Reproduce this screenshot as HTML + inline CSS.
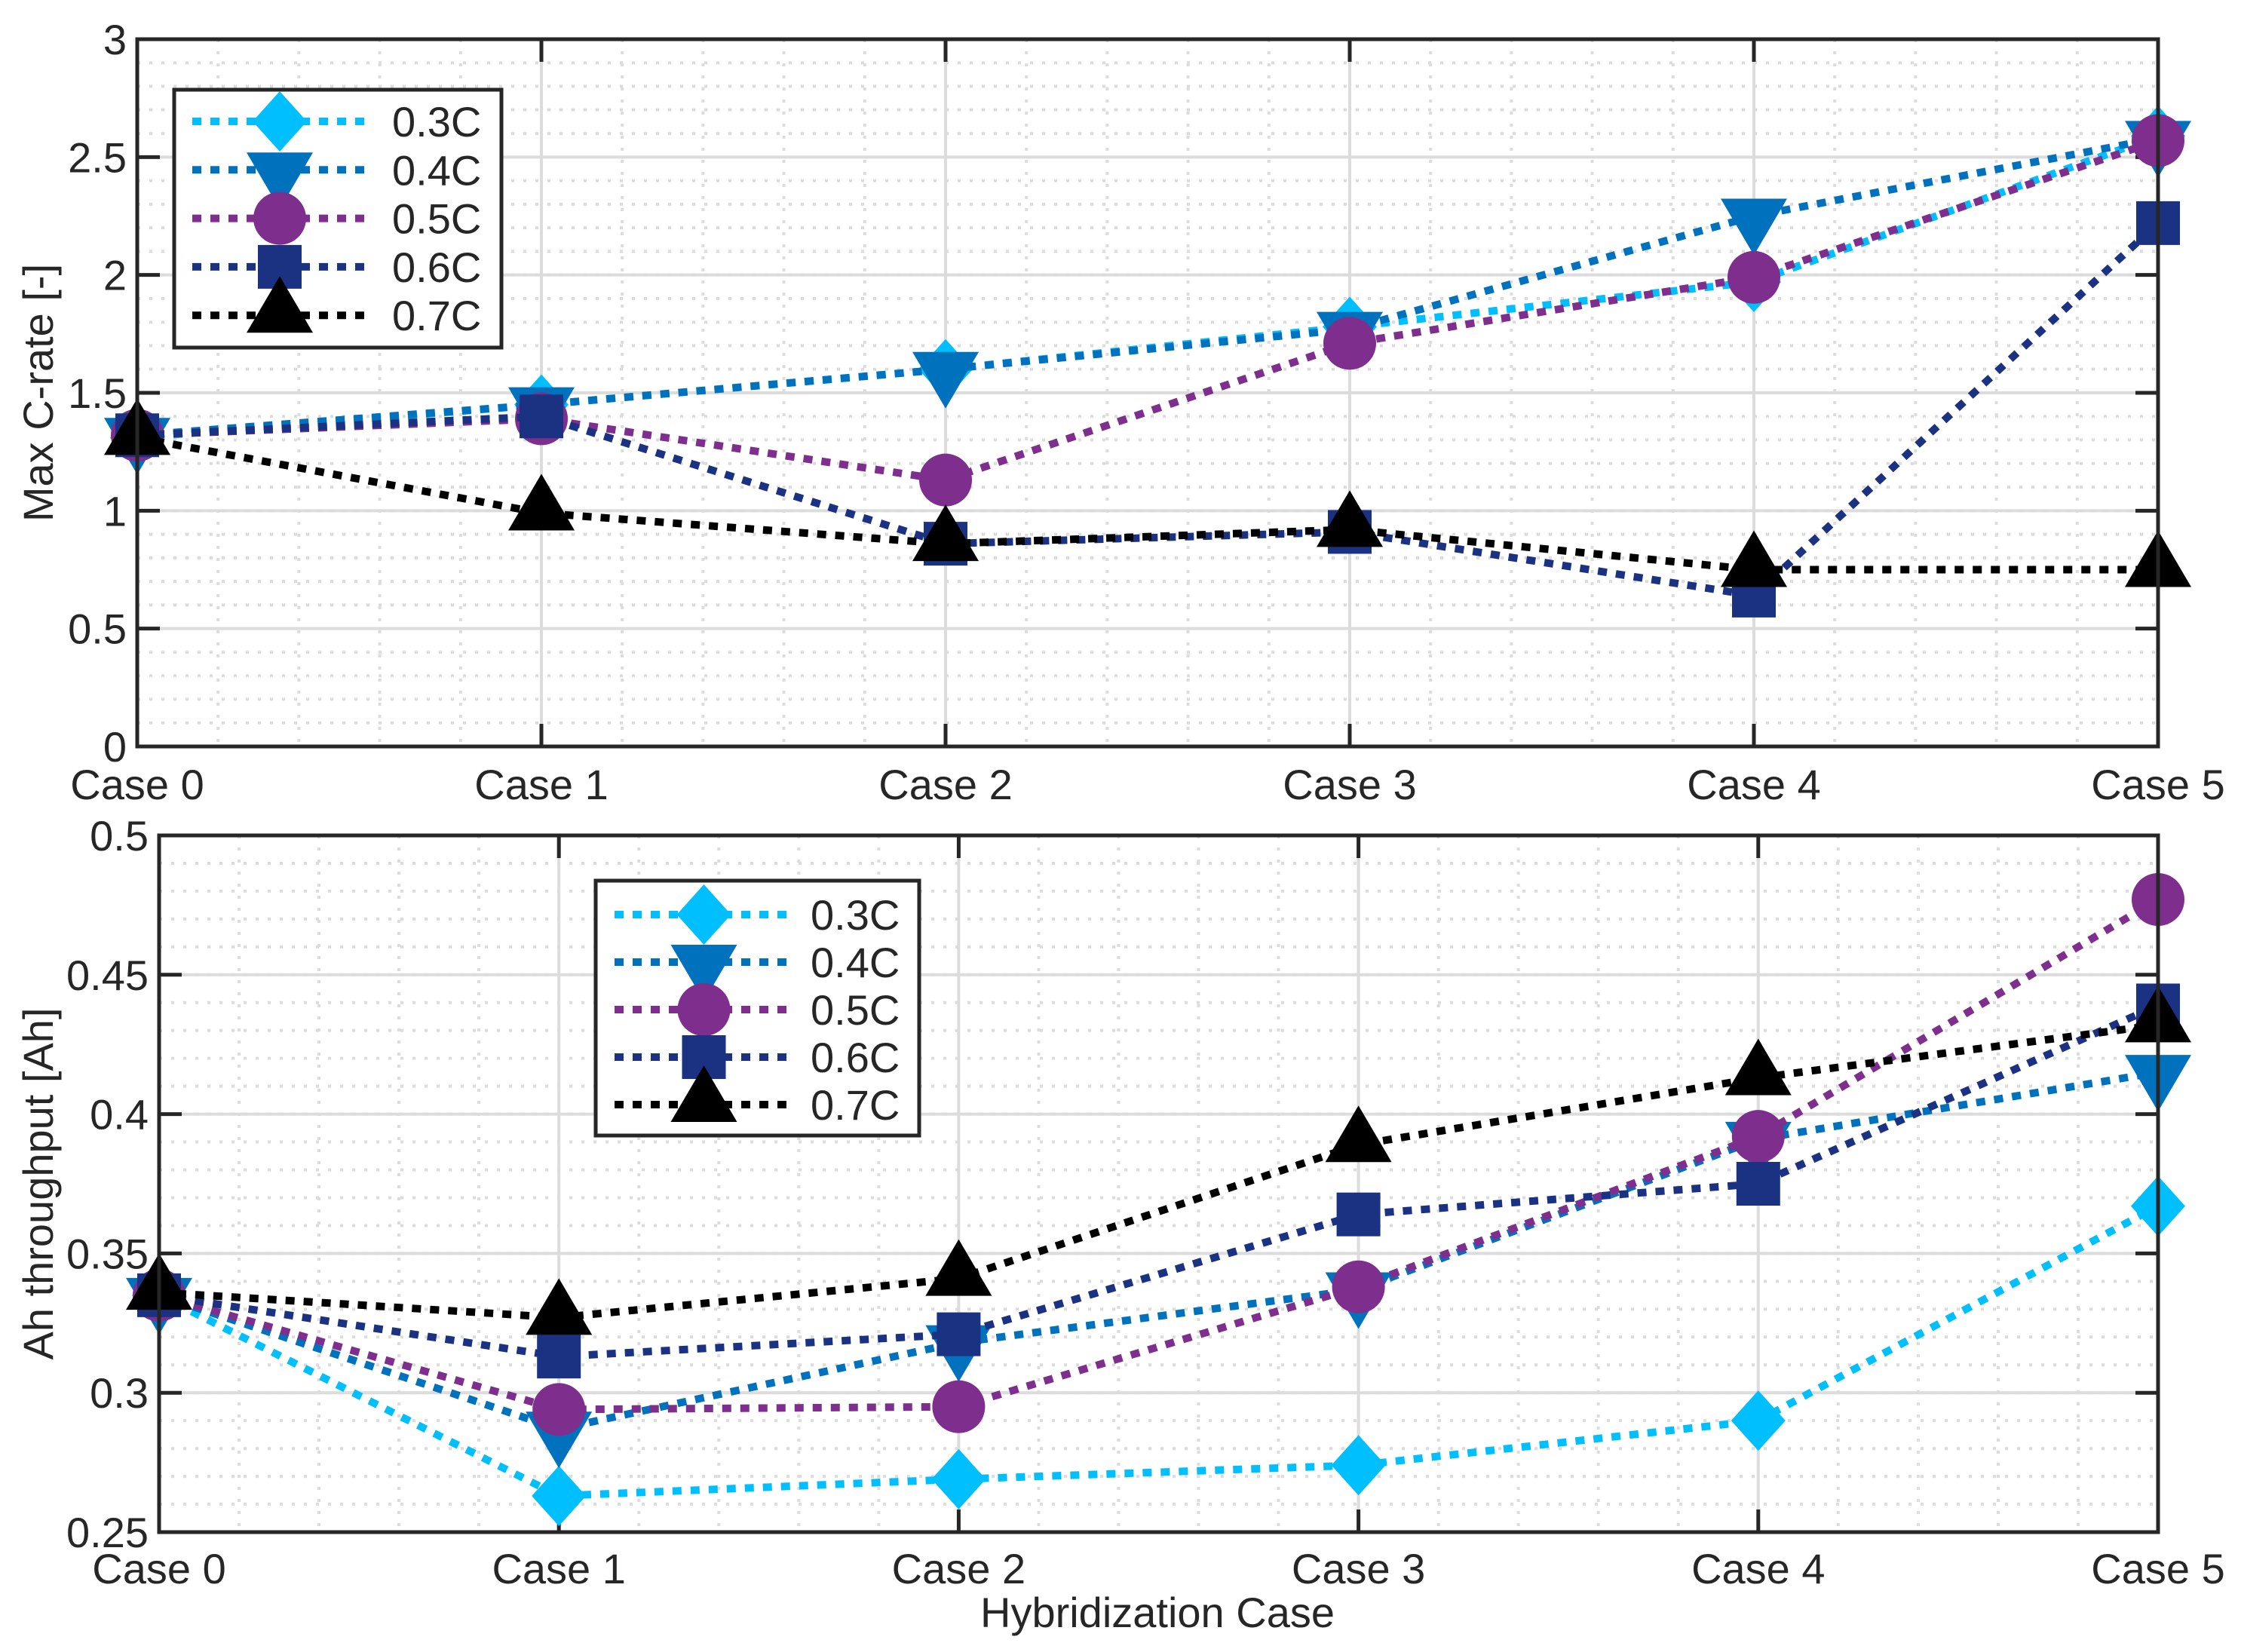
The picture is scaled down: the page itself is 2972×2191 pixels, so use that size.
<!DOCTYPE html>
<html><head><meta charset="utf-8"><style>
html,body{margin:0;padding:0;background:#fff;}
svg{display:block;font-family:"Liberation Sans",Arial,sans-serif;}
</style></head><body>
<svg id="fig" width="2972" height="2191" viewBox="0 0 2972 2191" xmlns="http://www.w3.org/2000/svg"></svg>
<script>
const categories = ["Case 0","Case 1","Case 2","Case 3","Case 4","Case 5"];
const seriesNames = ["0.3C","0.4C","0.5C","0.6C","0.7C"];
const topValues03 = [1.31, 1.45, 1.60, 1.78, 1.97, 2.59];
const topValues04 = [1.32, 1.45, 1.60, 1.77, 2.25, 2.58];
const topValues05 = [1.32, 1.39, 1.13, 1.71, 1.99, 2.57];
const topValues06 = [1.32, 1.40, 0.86, 0.91, 0.64, 2.22];
const topValues07 = [1.31, 0.99, 0.86, 0.92, 0.75, 0.75];
const botValues03 = [0.335, 0.263, 0.269, 0.274, 0.290, 0.367];
const botValues04 = [0.335, 0.287, 0.318, 0.337, 0.391, 0.415];
const botValues05 = [0.335, 0.294, 0.295, 0.338, 0.392, 0.477];
const botValues06 = [0.335, 0.313, 0.321, 0.364, 0.375, 0.439];
const botValues07 = [0.336, 0.327, 0.341, 0.389, 0.413, 0.432];
const topYTicks = [0, 0.5, 1, 1.5, 2, 2.5, 3];
const topYTickLabels = ["0","0.5","1","1.5","2","2.5","3"];
const botYTicks = [0.25, 0.3, 0.35, 0.4, 0.45, 0.5];
const botYTickLabels = ["0.25","0.3","0.35","0.4","0.45","0.5"];

const colors = ["#00BFFF","#0072BD","#7E2F8E","#1A3281","#000000"];
const markers = ["diamond","vtri","circle","square","utri"];
const NS = "http://www.w3.org/2000/svg";
const svg = document.getElementById("fig");
function el(tag, attrs, parent){
  const e = document.createElementNS(NS, tag);
  for (const k in attrs) e.setAttribute(k, attrs[k]);
  (parent||svg).appendChild(e);
  return e;
}

function drawMarker(g, type, cx, cy, color){
  let m;
  if (type === "diamond"){
    m = el("polygon",{points:`${cx},${cy-40} ${cx+36},${cy} ${cx},${cy+40} ${cx-36},${cy}`,fill:color},g);
  } else if (type === "vtri"){
    m = el("polygon",{points:`${cx-44},${cy-23} ${cx+44},${cy-23} ${cx},${cy+52}`,fill:color},g);
  } else if (type === "utri"){
    m = el("polygon",{points:`${cx-44},${cy+23} ${cx+44},${cy+23} ${cx},${cy-52}`,fill:color},g);
  } else if (type === "circle"){
    m = el("circle",{cx:cx,cy:cy,r:35,fill:color},g);
  } else {
    m = el("rect",{x:cx-29,y:cy-29,width:58,height:58,fill:color},g);
  }
  return m;
}

function drawPanel(cfg){
  const {L,R,T,B,ymin,ymax,yTicks,yLabels,minorStep,values,legend,yTitle,prefix,xLabelY} = cfg;
  const xs = i => L + (R-L)*i/(categories.length-1);
  const ys = v => B - (v-ymin)/(ymax-ymin)*(B-T);
  const g = el("g",{});
  
  
  // minor grid
  const mg = el("g",{stroke:"#dcdcdc","stroke-width":4,"stroke-dasharray":"4 12"},g);
  for (let v=ymin; v<ymax-1e-9; v+=minorStep){
    const y = ys(v);
    el("line",{x1:L,x2:R,y1:y,y2:y},mg);
  }
  for (let i=0;i<categories.length-1;i++){
    for (let k=1;k<5;k++){
      const x = L + (R-L)*(i+k/5)/(categories.length-1);
      el("line",{x1:x,x2:x,y1:T,y2:B},mg);
    }
  }
  // major grid
  const Mg = el("g",{stroke:"#dcdcdc","stroke-width":4},g);
  yTicks.forEach(v=>{const y=ys(v); el("line",{x1:L,x2:R,y1:y,y2:y},Mg);});
  categories.forEach((c,i)=>{const x=xs(i); el("line",{x1:x,x2:x,y1:T,y2:B},Mg);});
  // ticks
  const tg = el("g",{stroke:"#262626","stroke-width":5},g);
  yTicks.forEach(v=>{const y=ys(v);
    el("line",{x1:L,x2:L+30,y1:y,y2:y},tg); el("line",{x1:R,x2:R-30,y1:y,y2:y},tg);});
  categories.forEach((c,i)=>{const x=xs(i);
    el("line",{x1:x,x2:x,y1:B,y2:B-30},tg); el("line",{x1:x,x2:x,y1:T,y2:T+30},tg);});
  // tick labels
  yTicks.forEach((v,i)=>{
    const t = el("text",{x:L-14,y:ys(v)+20,"text-anchor":"end","font-size":56,fill:"#262626"},g);
    t.textContent = yLabels[i];
    
    
  });
  categories.forEach((c,i)=>{
    const t = el("text",{x:xs(i),y:xLabelY,"text-anchor":"middle","font-size":56,fill:"#262626"},g);
    t.textContent = c;
    
    
  });
  const yt = el("text",{x:0,y:0,"text-anchor":"middle","font-size":56,fill:"#262626",transform:`translate(70,${(T+B)/2}) rotate(-90)`},g);
  yt.textContent = yTitle;
  
  
  // series
  values.forEach((vals,si)=>{
    const sg = el("g",{},g);
    
    
    const pts = vals.map((v,i)=>xs(i)+","+ys(v)).join(" ");
    el("polyline",{points:pts,fill:"none",stroke:colors[si],"stroke-width":10,"stroke-dasharray":"12 12"},sg);
    vals.forEach((v,i)=>{
      const m = drawMarker(sg, markers[si], xs(i), ys(v), colors[si]);
      
      
    });
  });
  // box
  el("rect",{x:L,y:T,width:R-L,height:B-T,fill:"none",stroke:"#262626","stroke-width":5},g);
  // legend
  const lg = el("g",{},g);
  
  
  el("rect",{x:legend.x,y:legend.y,width:legend.w,height:legend.h,fill:"#fff",stroke:"#262626","stroke-width":5},lg);
  seriesNames.forEach((n,si)=>{
    const e = el("g",{},lg);
    
    
    const y = legend.y0 + si*legend.dy;
    el("line",{x1:legend.lx1,x2:legend.lx2,y1:y,y2:y,stroke:colors[si],"stroke-width":10,"stroke-dasharray":"12 12"},e);
    drawMarker(e, markers[si], (legend.lx1+legend.lx2)/2, y, colors[si]);
    const t = el("text",{x:legend.tx,y:y+20,"font-size":56,fill:"#262626"},e);
    t.textContent = n;
  });
}

drawPanel({L:182,R:2862,T:52,B:990,ymin:0,ymax:3,yTicks:topYTicks,yLabels:topYTickLabels,minorStep:0.1,
  values:[topValues03,topValues04,topValues05,topValues06,topValues07],
  legend:{x:231,y:119,w:434,h:342,y0:161,dy:64.3,lx1:255,lx2:487,tx:520},
  yTitle:"Max C-rate [-]",prefix:"top",xLabelY:1060});
drawPanel({L:211,R:2862,T:1108,B:2032,ymin:0.25,ymax:0.5,yTicks:botYTicks,yLabels:botYTickLabels,minorStep:0.01,
  values:[botValues03,botValues04,botValues05,botValues06,botValues07],
  legend:{x:790,y:1168,w:429,h:338,y0:1213,dy:63,lx1:815,lx2:1052,tx:1075},
  yTitle:"Ah throughput [Ah]",prefix:"bottom",xLabelY:2100});
const xt = el("text",{x:1535,y:2158,"text-anchor":"middle","font-size":56,fill:"#262626"});
xt.textContent = "Hybridization Case";


</script>
</body></html>
